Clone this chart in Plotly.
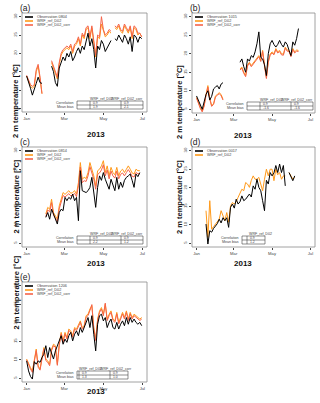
import pandas as pd
import plotly.graph_objects as go

W, H = 320, 403
N = None

# día del año (desde 1 ene 2013), cada 3 días
DAYS = list(range(0, 181, 3))
T0 = pd.Timestamp("2013-01-01")

# (a) estación 0804
OBS_A = [13.8, 12.3, 10.5, 8.6, 10.5, 11.8, 13.5, 12.0, 11.8, N,
         N, N, N, 16.5, 15.0, 12.0, 11.0, 16.0, 17.5, 19.0,
         18.0, 20.0, 19.0, 20.5, 18.0, 19.0, 20.5, 21.5, 20.0, 22.0,
         21.0, 23.0, 25.5, 22.0, 24.0, 21.0, 16.0, 22.0, 21.0, 23.5,
         22.5, 20.5, 21.5, 22.5, 23.5, N, 24.0, 23.5, 25.0, 24.0,
         23.0, 25.0, 24.0, 22.5, 24.5, 20.5, 25.0, 24.5, 23.0, 24.5, 24.0]
WRF_A = [13.8, 12.5, 11.0, 10.5, 11.0, 15.0, 16.5, 13.0, 9.0, N,
         N, N, N, 17.5, 16.0, 14.0, 13.0, 17.0, 19.5, 20.5,
         21.0, 21.5, 21.0, 22.0, 20.0, 22.0, 22.5, 24.0, 22.0, 25.0,
         24.0, 26.5, 27.0, 24.0, 27.0, 23.0, 19.0, 24.5, 24.0, 28.0,
         26.0, 24.5, 25.0, 26.0, 25.5, N, 27.0, 26.5, 27.5, 26.0,
         25.5, 27.5, 26.5, 25.5, 27.0, 24.0, 27.0, 26.5, 25.0, 25.5, 24.5]
COR_A = [14.0, 12.8, 11.5, 11.0, 11.5, 15.5, 17.0, 13.5, 9.0, N,
         N, N, N, 18.0, 16.5, 14.5, 13.5, 17.5, 20.0, 21.0,
         21.5, 22.0, 21.5, 22.5, 20.5, 22.5, 23.0, 24.5, 22.5, 25.5,
         24.5, 27.0, 27.5, 24.5, 27.5, 23.5, 19.5, 25.0, 24.5, 30.0,
         26.5, 25.0, 25.5, 26.5, 26.0, N, 27.5, 27.0, 28.0, 26.5,
         26.0, 28.0, 27.0, 26.0, 27.5, 24.5, 27.5, 27.0, 25.5, 25.5, 24.5]

# (b) estación 1015
OBS_B = [8.6, 7.5, 6.0, 5.0, 7.0, 9.0, 10.0, 7.5, 8.5, 10.5,
         11.0, 11.4, 10.5, 11.8, 12.2, N, N, N, N, N,
         N, N, N, 17.7, 18.6, 16.5, 15.0, 18.6, 18.0, 19.5,
         19.0, 20.5, 22.7, 25.9, 19.0, 18.6, 17.0, 14.1, 20.0, 22.7,
         23.6, 22.5, 21.8, 22.5, 23.6, 22.5, 21.8, 23.2, 22.5, 20.9,
         19.5, 23.2, 22.3, 24.1, 26.8, N, N, N, N, N, N]
WRF_B = [8.2, 6.5, 5.5, 4.5, 6.0, 9.0, 11.4, 8.0, 6.0, 6.5,
         8.6, 9.0, 9.5, 9.0, 7.7, N, N, N, N, N,
         N, N, N, 15.9, 16.4, 15.0, 14.1, 17.0, 17.7, 16.8,
         17.5, 18.2, 19.0, 19.5, 18.2, 20.9, 17.0, 13.6, 18.0, 19.9,
         20.5, 20.0, 21.4, 20.5, 20.9, 20.0, 19.9, 21.8, 21.0, 20.9,
         19.5, 21.4, 20.5, 21.0, 20.9, N, N, N, N, N, N]
COR_B = [8.0, 6.3, 5.2, 4.3, 5.8, 8.7, 11.0, 7.7, 5.8, 6.3,
         8.3, 8.8, 9.2, 8.7, 7.5, N, N, N, N, N,
         N, N, N, 15.6, 16.1, 14.7, 13.8, 16.7, 17.4, 16.5,
         17.2, 17.9, 18.7, 19.2, 17.9, 20.6, 16.7, 13.3, 17.7, 19.6,
         20.2, 19.7, 21.1, 20.2, 20.6, 19.7, 19.6, 21.5, 20.7, 20.6,
         19.2, 21.1, 20.2, 20.7, 20.6, N, N, N, N, N, N]

# (c) estación 0814
OBS_C = [N, N, N, N, N, N, N, N, N, N,
         12.0, 13.3, 11.5, 14.2, 12.9, 11.5, 10.2, 13.3, 14.2, 13.8,
         17.4, 16.5, 17.4, 16.9, 18.3, 16.5, 17.4, 11.1, 24.6, 19.2,
         19.0, 18.7, 19.2, 20.1, 22.8, 18.7, 14.7, 20.1, 23.2, 22.0,
         24.1, 22.3, 21.0, 19.6, 22.3, 21.0, 19.2, 22.8, 19.6, 21.5,
         20.1, 22.0, 22.8, 23.2, 23.7, 22.0, 20.1, 23.7, 23.0, 24.1, N]
WRF_C = [N, N, N, N, N, N, N, N, N, N,
         12.9, 14.7, 14.2, 16.9, 13.3, 12.5, 11.5, 15.1, 17.0, 18.7,
         18.2, 18.7, 19.2, 18.5, 18.7, 19.2, 18.3, 21.4, 26.8, 22.3,
         22.8, 22.5, 24.1, 26.8, 25.0, 23.2, 20.5, 24.6, 25.0, 25.9,
         27.3, 24.1, 25.9, 23.2, 25.5, 24.1, 23.5, 25.5, 23.2, 24.5,
         25.0, 24.1, 25.0, 25.9, 25.0, 24.0, 23.7, 25.0, 24.6, 24.6, N]
COR_C = [N, N, N, N, N, N, N, N, N, N,
         12.2, 14.0, 13.5, 16.0, 12.6, 11.8, 10.9, 14.3, 16.2, 17.9,
         17.5, 18.0, 18.4, 17.8, 18.0, 18.5, 17.6, 20.5, 25.6, 21.4,
         21.9, 21.7, 23.2, 25.7, 24.0, 22.3, 19.6, 23.6, 24.0, 24.8,
         26.2, 23.2, 24.8, 22.4, 24.5, 23.2, 22.6, 24.5, 22.4, 23.6,
         24.0, 23.2, 24.1, 24.9, 24.1, 23.1, 22.9, 24.1, 23.8, 23.7, N]

# (d) estación 0017
OBS_D = [N, N, N, N, N, 10.2, 4.8, 8.4, 8.0, 9.0,
         9.8, 10.3, 11.5, 10.5, 11.9, 11.1, 11.9, 9.3, 14.7, 15.6,
         14.5, 16.9, 15.6, 16.2, 17.8, 16.5, 16.9, 17.8, 18.3, 17.5,
         20.5, 19.6, 22.3, 20.1, 19.2, 16.5, 13.8, 22.0, 21.0, 24.1,
         23.2, 24.0, 26.0, 24.1, 26.4, 24.1, 26.0, 20.5, N, 24.1,
         22.8, 21.9, 23.2, N, N, N, N, N, N, N, N]
WRF_D = [N, N, N, N, N, 13.8, 6.6, 16.5, 8.8, 9.5,
         10.2, 10.6, 11.5, 13.8, 12.5, 11.1, 13.3, 10.7, 15.1, 16.0,
         15.6, 16.2, 17.4, 18.3, 19.6, 19.2, 21.4, 21.0, 20.1, 22.0,
         23.2, 22.3, 22.3, 22.8, 21.0, 19.2, 22.3, 25.0, 23.2, 25.0,
         25.0, 21.9, 25.0, 23.5, 24.1, 22.3, 23.2, 23.2, N, 24.1,
         23.2, 22.3, 22.8, N, N, N, N, N, N, N, N]

# (e) estación 1206
OBS_E = [9.7, 7.0, 5.5, 4.8, 9.5, 8.8, 9.7, 9.3, 10.6, 11.5,
         13.8, 10.6, 13.3, 11.5, 10.2, 12.4, 13.8, 14.7, 16.5, 14.2,
         15.6, 14.7, 16.5, 17.4, 15.1, 16.9, 17.8, 16.5, 18.7, 17.4,
         18.7, 20.5, 21.4, 18.7, 21.9, 16.9, 12.4, 19.6, 21.9, 22.3,
         20.5, 21.4, 18.7, 20.1, 21.0, 18.7, 18.3, 20.1, 18.3, 19.6,
         20.5, 19.2, 21.4, 19.6, 21.4, 20.1, 21.0, 20.1, 19.6, 20.1, 19.2]
WRF_E = [10.2, 8.8, 7.9, 7.0, 10.0, 12.9, 8.4, 7.5, 10.6, 13.3,
         10.2, 9.7, 8.8, 12.9, 14.2, 13.8, 8.8, 14.2, 17.4, 15.1,
         17.4, 16.0, 18.3, 17.8, 16.5, 18.7, 18.3, 19.6, 20.5, 18.7,
         19.2, 21.9, 22.3, 23.7, 24.6, 18.7, 15.6, 21.0, 23.2, 24.1,
         22.3, 25.0, 21.0, 22.3, 23.2, 21.0, 20.5, 22.8, 20.1, 21.4,
         22.8, 21.4, 23.2, 21.0, 22.8, 21.4, 22.3, 21.9, 21.4, 21.0, 21.4]
COR_E = [10.0, 8.5, 7.5, 6.6, 9.6, 12.5, 8.0, 7.2, 10.2, 12.9,
         9.8, 9.3, 8.4, 12.5, 13.8, 13.4, 8.5, 13.8, 17.0, 14.7,
         17.0, 15.6, 17.9, 17.4, 16.1, 18.3, 17.9, 19.2, 20.1, 18.3,
         18.8, 21.5, 21.9, 23.3, 24.9, 18.3, 15.2, 20.6, 22.8, 23.7,
         21.9, 25.3, 20.6, 21.9, 22.8, 20.6, 20.1, 22.4, 19.7, 21.0,
         22.4, 21.0, 22.8, 20.6, 22.4, 21.0, 21.9, 21.5, 21.0, 20.6, 21.0]

# tablas: correlación / sesgo medio
STATS_A = [["0.9", "0.9"], ["1.9", "2.1"]]
STATS_B = [["0.9", "0.9"], ["-1.6", "-1.6"]]
STATS_C = [["0.9", "0.9"], ["2.2", "1.2"]]
STATS_D = [["0.9"], ["1.2"]]
STATS_E = [["0.9", "0.9"], ["1.3", "1.0"]]

Y_TICKS = [5, 10, 15, 20, 25, 30]
X_TICKS = ["2013-01-01", "2013-03-01", "2013-05-01", "2013-07-01"]
X_TEXT = ["Jan", "Mar", "May", "Jul"]

COL_OBS, COL_WRF, COL_COR = "#000000", "#FF9A1A", "#F5634A"
FONT = "Liberation Sans, Arial, sans-serif"
GRAY = "#444444"

# (etiqueta, estación, caja en px [izq, arriba, der, abajo], series, tabla)
PANELES = [
    ("(a)", "0804", (22, 13, 147, 112), [OBS_A, WRF_A, COR_A], STATS_A),
    ("(b)", "1015", (192, 13, 315, 113), [OBS_B, WRF_B, COR_B], STATS_B),
    ("(c)", "0814", (22, 147, 147, 247), [OBS_C, WRF_C, COR_C], STATS_C),
    ("(d)", "0017", (192, 147, 315, 247), [OBS_D, WRF_D], STATS_D),
    ("(e)", "1206", (22, 282, 147, 382), [OBS_E, WRF_E, COR_E], STATS_E),
]


def px(x):
    return x / W


def py(y):
    return 1 - y / H


fechas = [T0 + pd.Timedelta(days=d) for d in DAYS]
fig = go.Figure()
shapes, anns = [], []
nombres = ["Observation", "WRF_ref_D02", "WRF_ref_D02_corr"]
colores = [COL_OBS, COL_WRF, COL_COR]

for i, (etq, est, (L, T, R, B), series, stats) in enumerate(PANELES, start=1):
    sx = "" if i == 1 else str(i)
    # orden de dibujo: modelo abajo, observación encima
    orden = [1, 2, 0] if len(series) == 3 else [1, 0]
    for j in orden:
        fig.add_trace(go.Scatter(
            x=fechas, y=series[j], mode="lines", connectgaps=False,
            line=dict(color=colores[j], width=1.0), showlegend=False,
            xaxis="x" + sx, yaxis="y" + sx, hoverinfo="skip"))

    fig.layout["xaxis" + sx] = dict(
        domain=[px(L), px(R)], anchor="y" + sx,
        range=["2012-12-24 18:00", "2013-07-08 06:00"],
        tickvals=X_TICKS, ticktext=X_TEXT, ticks="outside", ticklen=2,
        tickwidth=0.6, tickcolor=GRAY, tickfont=dict(size=4.2, color=GRAY, family=FONT),
        showgrid=False, zeroline=False, showline=False)
    fig.layout["yaxis" + sx] = dict(
        domain=[py(B), py(T)], anchor="x" + sx, range=[4, 31],
        tickvals=Y_TICKS, ticks="outside", ticklen=2, tickwidth=0.6, tickcolor=GRAY,
        tickangle=-90, tickfont=dict(size=4.2, color=GRAY, family=FONT),
        showgrid=False, zeroline=False, showline=False)

    # caja del gráfico
    shapes.append(dict(type="rect", xref="x" + sx + " domain", yref="y" + sx + " domain",
                       x0=0, x1=1, y0=0, y1=1, line=dict(color="#8a8a8a", width=0.8)))

    # etiquetas de panel y ejes
    anns.append(dict(text=etq, x=px(L - 4), y=py(T - 5), xref="paper", yref="paper",
                     xanchor="left", yanchor="middle", showarrow=False,
                     font=dict(size=8.5, color="#222", family=FONT)))
    anns.append(dict(text="<b>2 m temperature [°C]</b>", x=px(L - 13), y=py((T + B) / 2),
                     xref="paper", yref="paper", textangle=-90, showarrow=False,
                     font=dict(size=7.5, color="#111", family=FONT)))
    anns.append(dict(text="<b>2013</b>", x=px((L + R) / 2), y=py(B + 16),
                     xref="paper", yref="paper", showarrow=False,
                     font=dict(size=8, color="#111", family=FONT)))

    # leyenda
    for j in range(len(series)):
        yy = T + 4 + 4 * j
        shapes.append(dict(type="line", xref="paper", yref="paper",
                           x0=px(L + 3), x1=px(L + 11), y0=py(yy), y1=py(yy),
                           line=dict(color=colores[j], width=1.6)))
        txt = nombres[j] + (" " + est if j == 0 else "")
        anns.append(dict(text=txt, x=px(L + 13), y=py(yy), xref="paper", yref="paper",
                         xanchor="left", yanchor="middle", showarrow=False,
                         font=dict(size=3.8, color=GRAY, family=FONT)))

    # tabla de estadísticos
    ncol = len(stats[0])
    if ncol == 2:
        x0, cuts, x1 = L + 55, [L + 68, L + 99], L + 121
        if etq == "(e)":
            x0, cuts, x1 = L + 55, [L + 57, L + 88], L + 106
        heads = ["WRF_ref_D02", "WRF_ref_D02_corr"]
        hx = [cuts[0] - 2, cuts[1] - 12]
    else:
        x0, cuts, x1 = L + 50, [L + 55], L + 73
        heads = ["WRF_ref_D02"]
        hx = [L + 55]
    ytop, ymid, ybot = B - 11, B - 7, B - 3
    shapes.append(dict(type="rect", xref="paper", yref="paper", x0=px(x0), x1=px(x1),
                       y0=py(ybot), y1=py(ytop), line=dict(color=GRAY, width=0.6)))
    shapes.append(dict(type="line", xref="paper", yref="paper", x0=px(x0), x1=px(x1),
                       y0=py(ymid), y1=py(ymid), line=dict(color=GRAY, width=0.6)))
    for c in cuts:
        shapes.append(dict(type="line", xref="paper", yref="paper", x0=px(c), x1=px(c),
                           y0=py(ybot), y1=py(ytop), line=dict(color=GRAY, width=0.6)))
    for h, xh in zip(heads, hx):
        anns.append(dict(text=h, x=px(xh), y=py(ytop - 2), xref="paper", yref="paper",
                         xanchor="left", yanchor="middle", showarrow=False,
                         font=dict(size=3.6, color=GRAY, family=FONT)))
    for r, (nom, yc) in enumerate([("Correlation", (ytop + ymid) / 2),
                                    ("Mean bias", (ymid + ybot) / 2)]):
        anns.append(dict(text=nom, x=px(x0 - 1), y=py(yc), xref="paper", yref="paper",
                         xanchor="right", yanchor="middle", showarrow=False,
                         font=dict(size=3.6, color=GRAY, family=FONT)))
        for c, v in zip(cuts, stats[r]):
            anns.append(dict(text=v, x=px(c + 1), y=py(yc), xref="paper", yref="paper",
                             xanchor="left", yanchor="middle", showarrow=False,
                             font=dict(size=3.4, color=GRAY, family=FONT)))

fig.update_layout(
    width=W, height=H, margin=dict(l=0, r=0, t=0, b=0),
    paper_bgcolor="white", plot_bgcolor="white",
    shapes=shapes, annotations=anns, showlegend=False,
)
# el body del html trae 8 px de margen por defecto: se quita
fig.write_html("out.html", config={"displayModeBar": False},
               post_script="document.body.style.margin='0';")
